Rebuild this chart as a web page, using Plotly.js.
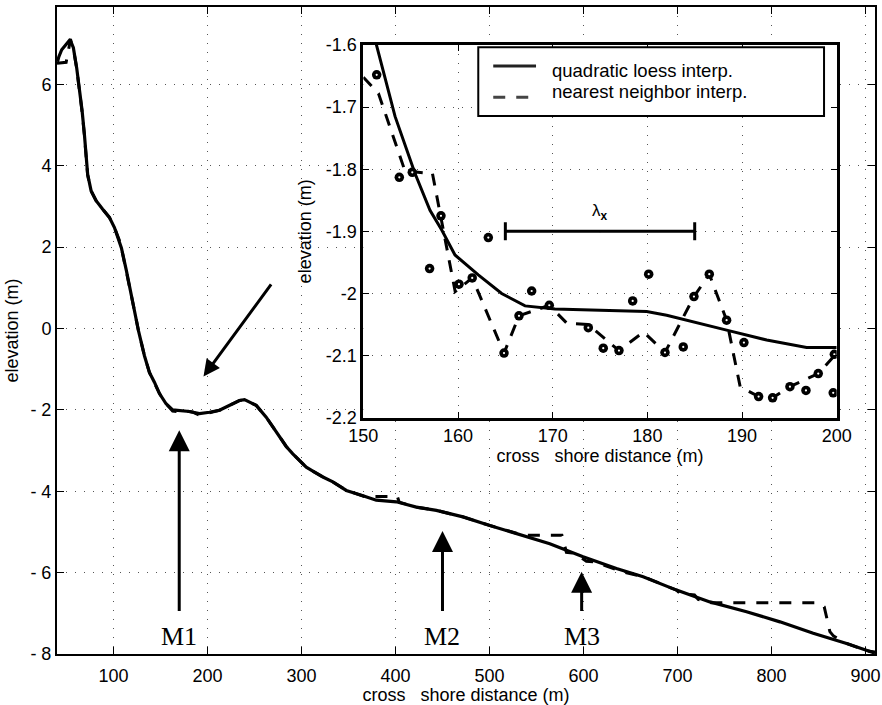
<!DOCTYPE html>
<html>
<head>
<meta charset="utf-8">
<script src="https://cdn.plot.ly/plotly-3.0.1.min.js"></script>
<style>html,body{margin:0;padding:0;background:#fff;}#chart{width:882px;height:705px;}</style>
</head>
<body>
<div id="chart"></div>
<script>
// ---- main profile: quadratic loess interpolation ----
const mainLoessX = [40.5, 42, 45, 49, 54.2, 55.3, 57.4, 60.9, 63.8, 66.7, 69.1, 70.9, 72.6, 76.3, 81.6, 88.6, 95.7, 101.1, 106.4, 108.5, 113.8, 120.2, 126.6, 133, 138.3, 143.6, 149, 156, 163, 180.9, 191.5, 202.2, 212.8, 227, 234.1, 239.4, 251.9, 262.5, 269.6, 276.7, 283.8, 290.8, 298, 305.1, 313.9, 322.8, 333.4, 347.7, 365.4, 379.6, 400.9, 422.2, 443.5, 471.8, 500.2, 535.7, 564.1, 599.5, 635, 663.4, 698.9, 734.4, 773.4, 808.9, 844.3, 879.8, 904.7, 910];
const mainLoessY = [6.55, 6.68, 6.85, 6.97, 7.11, 7.02, 6.90, 6.41, 5.92, 5.35, 4.78, 4.28, 3.79, 3.38, 3.14, 2.93, 2.73, 2.48, 2.16, 1.98, 1.42, 0.68, -0.05, -0.67, -1.08, -1.32, -1.6, -1.85, -2.0, -2.04, -2.09, -2.06, -2.01, -1.85, -1.77, -1.75, -1.89, -2.18, -2.42, -2.67, -2.90, -3.08, -3.24, -3.41, -3.53, -3.65, -3.77, -3.98, -4.11, -4.22, -4.26, -4.39, -4.47, -4.63, -4.84, -5.08, -5.29, -5.61, -5.9, -6.1, -6.43, -6.72, -6.96, -7.21, -7.49, -7.74, -7.95, -7.98];
// ---- main profile: nearest neighbor interpolation ----
const mainNearX = [40, 49.7, 54.2, 55.3, 57.4, 60.9, 63.8, 66.7, 69.1, 70.9, 72.6, 76.3, 81.6, 88.6, 95.7, 101.1, 106.4, 108.5, 113.8, 120.2, 126.6, 133, 138.3, 143.6, 149, 156, 163, 172, 178, 185, 191.5, 202.2, 212.8, 227, 234.1, 239.4, 251.9, 262.5, 269.6, 276.7, 283.8, 290.8, 298, 305.1, 313.9, 322.8, 333.4, 347.7, 367, 402, 404, 422.2, 443.5, 471.8, 500.2, 535.7, 577, 581.8, 590, 603, 612, 628, 640, 663.4, 698.9, 703, 718, 722, 736, 850, 856, 862, 866, 879.8, 895, 901, 910];
const mainNearY = [6.52, 6.54, 7.08, 7.0, 6.88, 6.40, 5.90, 5.32, 4.76, 4.27, 3.77, 3.38, 3.14, 2.93, 2.73, 2.48, 2.16, 1.98, 1.42, 0.68, -0.05, -0.67, -1.08, -1.32, -1.6, -1.85, -2.03, -2.05, -2.03, -2.06, -2.13, -2.07, -2.01, -1.85, -1.77, -1.75, -1.89, -2.18, -2.42, -2.67, -2.90, -3.08, -3.24, -3.41, -3.53, -3.65, -3.77, -3.98, -4.13, -4.13, -4.27, -4.39, -4.47, -4.63, -4.84, -5.08, -5.08, -5.50, -5.52, -5.72, -5.74, -5.88, -5.97, -6.1, -6.43, -6.52, -6.55, -6.66, -6.74, -6.74, -6.84, -7.45, -7.56, -7.74, -7.88, -7.92, -7.95];

// ---- inset: loess ----
const insetLoessX = [151.3, 153.35, 155.46, 157.04, 158.28, 159.68, 162.14, 164.61, 167.08, 170.24, 175.0, 179.93, 182.04, 184.85, 188.37, 192.6, 196.82, 200];
const insetLoessY = [-1.595, -1.715, -1.807, -1.866, -1.898, -1.938, -1.970, -2.0, -2.02, -2.025, -2.027, -2.029, -2.035, -2.046, -2.059, -2.075, -2.087, -2.087];
// ---- inset: nearest neighbor ----
const insetNearX = [150, 151.6, 154.4, 157.3, 159.7, 161.5, 164.86, 166.44, 169.64, 171.5, 173.76, 177.0, 179.6, 181.86, 184.92, 186.54, 188.37, 189.8, 191.75, 193.23, 195.06, 198.05, 200];
const insetNearY = [-1.652, -1.678, -1.803, -1.807, -1.997, -1.975, -2.096, -2.036, -2.019, -2.048, -2.05, -2.092, -2.062, -2.095, -2.005, -1.969, -2.043, -2.15, -2.166, -2.168, -2.15, -2.129, -2.096];
// ---- inset: survey observations ----
const obsX = [151.41, 153.80, 155.17, 157.0, 158.2, 160.1, 161.5, 163.2, 164.86, 166.44, 167.78, 169.64, 173.76, 175.34, 177.0, 178.45, 180.14, 181.86, 183.79, 184.92, 186.54, 188.37, 190.2, 191.75, 193.23, 195.06, 196.75, 198.05, 199.63, 199.75];
const obsY = [-1.648, -1.813, -1.805, -1.96, -1.875, -1.985, -1.975, -1.91, -2.096, -2.036, -1.996, -2.019, -2.055, -2.088, -2.092, -2.012, -1.969, -2.095, -2.086, -2.005, -1.969, -2.043, -2.079, -2.166, -2.168, -2.15, -2.156, -2.129, -2.16, -2.098];

// ---- lambda_x scale bar ----
const lambdaStart = 165, lambdaEnd = 185, lambdaY = -1.9;

// ---- ticks ----
const mainXTicks = [100, 200, 300, 400, 500, 600, 700, 800, 900];
const mainYTicks = [-8, -6, -4, -2, 0, 2, 4, 6];
const mainYTickText = ['- 8', '- 6', '- 4', '- 2', '0', '2', '4', '6'];
const insetXTicks = [150, 160, 170, 180, 190, 200];
const insetYTicks = [-2.2, -2.1, -2.0, -1.9, -1.8, -1.7, -1.6];
const insetYTickText = ['-2.2', '-2.1', '-2', '-1.9', '-1.8', '-1.7', '-1.6'];

// ---- legend entries ----
const legendNames = ['quadratic loess interp.', 'nearest neighbor interp.'];

// ---- M markers (arrows) ----
const markNames = ['M1', 'M2', 'M3'];
const markX = [170, 450, 598];
const markTipY = [-2.5, -4.98, -5.98];
const markLabelY = -7.56;
const bermArrow = {tipX: 195.8, tipY: -1.18, tailX: 268.9, tailY: 1.12};

const black = '#000';
const traces = [
  {x: mainNearX, y: mainNearY, xaxis: 'x', yaxis: 'y', mode: 'lines', showlegend: false,
   line: {color: black, width: 3, dash: '12px,11px'}, hoverinfo: 'skip'},
  {x: mainLoessX, y: mainLoessY, xaxis: 'x', yaxis: 'y', mode: 'lines', showlegend: false,
   line: {color: black, width: 3.2}, hoverinfo: 'skip'},
  {x: insetLoessX, y: insetLoessY, xaxis: 'x2', yaxis: 'y2', mode: 'lines', name: legendNames[0], showlegend: false,
   line: {color: black, width: 3}},
  {x: insetNearX, y: insetNearY, xaxis: 'x2', yaxis: 'y2', mode: 'lines', name: legendNames[1], showlegend: false,
   line: {color: black, width: 3, dash: '12px,10px'}},
  {x: obsX, y: obsY, xaxis: 'x2', yaxis: 'y2', mode: 'markers', showlegend: false,
   marker: {symbol: 'circle', size: 9.5, color: black, line: {width: 0}}},
  {x: obsX, y: obsY, xaxis: 'x2', yaxis: 'y2', mode: 'markers', showlegend: false,
   marker: {symbol: 'circle', size: 2.2, color: '#fff', line: {width: 0}}},
  {x: [(lambdaStart + lambdaEnd) / 2], y: [lambdaY], xaxis: 'x2', yaxis: 'y2', mode: 'markers', showlegend: false,
   marker: {size: 2, color: black},
   error_x: {type: 'constant', value: (lambdaEnd - lambdaStart) / 2, thickness: 3, width: 9, color: black}}
];

const gridStyle = {showgrid: true, gridcolor: '#555', gridwidth: 1, griddash: '1px,8px', zeroline: false};
const annotations = [];
markNames.forEach((n, i) => {
  annotations.push({x: markX[i], y: markTipY[i], ax: markX[i], ay: markLabelY, xref: 'x', yref: 'y', axref: 'x', ayref: 'y',
    showarrow: true, arrowhead: 2, arrowsize: 1.4, arrowwidth: 3, arrowcolor: black, startstandoff: 9, text: n,
    font: {family: 'Liberation Serif, Times New Roman, serif', size: 26, color: black}});
});
annotations.push({x: bermArrow.tipX, y: bermArrow.tipY, ax: bermArrow.tailX, ay: bermArrow.tailY,
  xref: 'x', yref: 'y', axref: 'x', ayref: 'y', showarrow: true, arrowhead: 2, arrowsize: 1.1, arrowwidth: 3, arrowcolor: black, text: ''});
annotations.push({x: (lambdaStart + lambdaEnd) / 2, y: -1.869, xref: 'x2', yref: 'y2', showarrow: false,
  text: 'λ<sub><b>x</b></sub>', font: {size: 17, color: black}});
// legend texts
annotations.push({x: 0.6027, y: 0.9022, xref: 'paper', yref: 'paper', xanchor: 'left', yanchor: 'middle', showarrow: false,
  text: legendNames[0], font: {size: 18.5, color: black}});
annotations.push({x: 0.6027, y: 0.8688, xref: 'paper', yref: 'paper', xanchor: 'left', yanchor: 'middle', showarrow: false,
  text: legendNames[1], font: {size: 18.5, color: black}});

const shapes = [
  {type: 'rect', xref: 'paper', yref: 'paper', x0: 0.5150, x1: 0.9377, y0: 0.8315, y1: 0.9377,
   fillcolor: '#fff', line: {color: black, width: 2}, layer: 'above'},
  {type: 'line', xref: 'paper', yref: 'paper', x0: 0.5333, x1: 0.5856, y0: 0.9088, y1: 0.9088,
   line: {color: '#222', width: 3}, layer: 'above'},
  {type: 'line', xref: 'paper', yref: 'paper', x0: 0.5333, x1: 0.5761, y0: 0.8604, y1: 0.8604,
   line: {color: '#444', width: 3, dash: '12px,11px'}, layer: 'above'}
];

const layout = {
  width: 882, height: 705,
  margin: {l: 57, r: 7, t: 7, b: 51},
  paper_bgcolor: '#fff', plot_bgcolor: '#fff',
  font: {family: 'Liberation Sans, Arial, Helvetica, sans-serif', size: 18, color: black},
  showlegend: false,
  xaxis: Object.assign({range: [40, 910], tickvals: mainXTicks, ticks: 'inside', ticklen: 7, tickcolor: black,
    showline: true, linewidth: 2, linecolor: black, mirror: 'ticks', automargin: false, ticklabelstandoff: 4,
    title: {text: 'cross\u00a0\u00a0\u00a0shore distance (m)', font: {size: 18}, standoff: 0}}, gridStyle),
  yaxis: Object.assign({range: [-8, 7.9], tickvals: mainYTicks, ticktext: mainYTickText, ticks: 'inside', ticklen: 7, tickcolor: black,
    showline: true, linewidth: 2, linecolor: black, mirror: 'ticks', automargin: false,
    title: {text: 'elevation (m)', font: {size: 18}, standoff: 7}}, gridStyle),
  xaxis2: Object.assign({domain: [0.3745, 0.9532], anchor: 'y2', range: [150, 200], tickvals: insetXTicks, ticks: 'inside', ticklen: 6, tickcolor: black,
    showline: true, linewidth: 3, linecolor: black, mirror: 'ticks', automargin: false,
    title: {text: 'cross\u00a0\u00a0\u00a0shore distance (m)', font: {size: 18}, standoff: 1}}, gridStyle),
  yaxis2: Object.assign({domain: [0.3652, 0.9413], anchor: 'x2', range: [-2.2, -1.6], tickvals: insetYTicks, ticktext: insetYTickText, ticks: 'inside', ticklen: 6, tickcolor: black,
    showline: true, linewidth: 3, linecolor: black, mirror: 'ticks', automargin: false,
    title: {text: 'elevation (m)', font: {size: 18}, standoff: 10}}, gridStyle),
  shapes: shapes,
  annotations: annotations
};

Plotly.newPlot('chart', traces, layout, {staticPlot: true, displayModeBar: false});
</script>
</body>
</html>
